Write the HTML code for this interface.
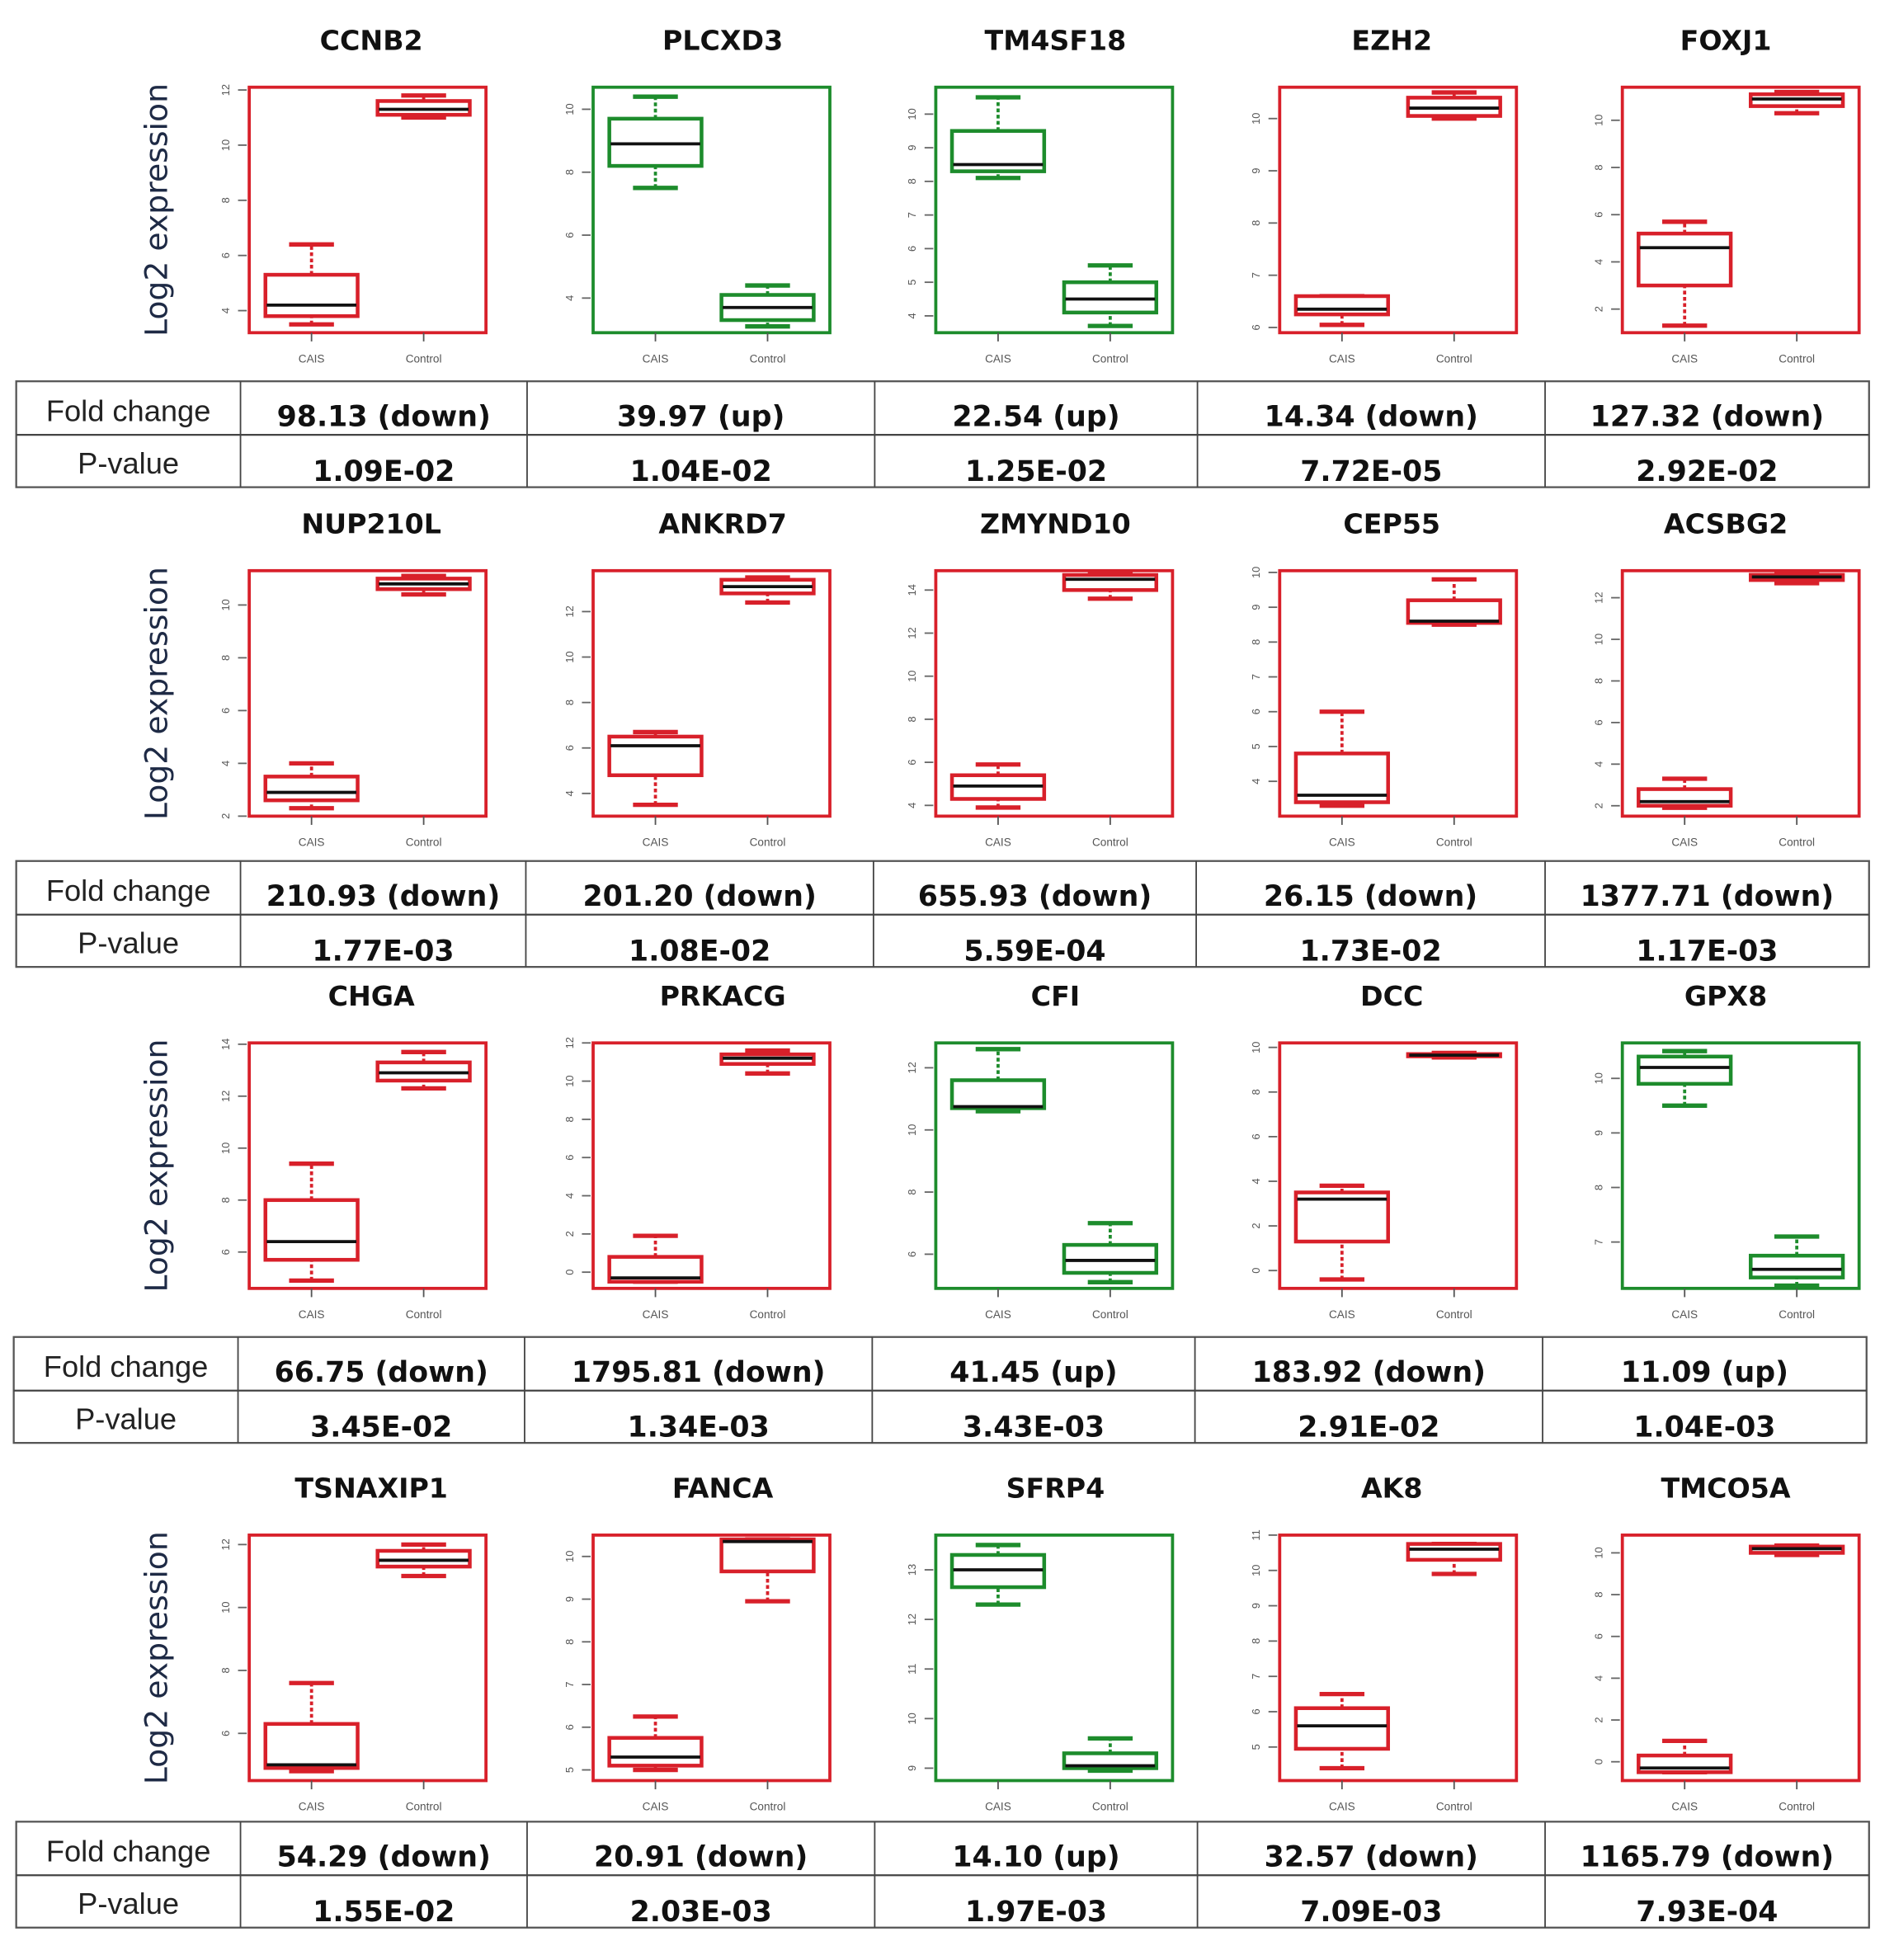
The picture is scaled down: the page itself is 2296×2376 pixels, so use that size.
<!DOCTYPE html>
<html><head><meta charset="utf-8"><style>
html,body{margin:0;padding:0;background:#fff;}
svg{display:block;}
</style></head><body>
<svg id="fig" xmlns="http://www.w3.org/2000/svg" width="2296" height="2376" viewBox="0 0 1520 1573"></svg>
<script>
const genes=["CCNB2","PLCXD3","TM4SF18","EZH2","FOXJ1","NUP210L","ANKRD7","ZMYND10","CEP55","ACSBG2","CHGA","PRKACG","CFI","DCC","GPX8","TSNAXIP1","FANCA","SFRP4","AK8","TMCO5A"];
const directions=["down","up","up","down","down","down","down","down","down","down","down","down","up","down","up","down","down","up","down","down"];
const domains=[[3.2,12.1],[2.9,10.7],[3.5,10.8],[5.9,10.6],[1.0,11.4],[2.0,11.3],[3.0,13.8],[3.5,14.9],[3.0,10.05],[1.5,13.3],[4.6,14.05],[-0.85,12.0],[4.9,12.8],[-0.8,10.2],[6.15,10.65],[4.5,12.3],[4.75,10.5],[8.75,13.7],[4.05,11.0],[-0.9,10.85]];
const tickValues=[[4,6,8,10,12],[4,6,8,10],[4,5,6,7,8,9,10],[6,7,8,9,10],[2,4,6,8,10],[2,4,6,8,10],[4,6,8,10,12],[4,6,8,10,12,14],[4,5,6,7,8,9,10],[2,4,6,8,10,12],[6,8,10,12,14],[0,2,4,6,8,10,12],[6,8,10,12],[0,2,4,6,8,10],[7,8,9,10],[6,8,10,12],[5,6,7,8,9,10],[9,10,11,12,13],[5,6,7,8,9,10,11],[0,2,4,6,8,10]];
// [low whisker, q1, median, q3, high whisker]
const caisStats=[[3.5,3.8,4.2,5.3,6.4],[7.5,8.2,8.9,9.7,10.4],[8.1,8.3,8.5,9.5,10.5],[6.05,6.25,6.35,6.6,6.6],[1.3,3.0,4.6,5.2,5.7],[2.3,2.6,2.9,3.5,4.0],[3.5,4.8,6.1,6.5,6.7],[3.9,4.3,4.9,5.4,5.9],[3.3,3.4,3.6,4.8,6.0],[1.9,2.0,2.2,2.8,3.3],[4.9,5.7,6.4,8.0,9.4],[-0.5,-0.5,-0.3,0.8,1.9],[10.6,10.7,10.75,11.6,12.6],[-0.4,1.3,3.2,3.5,3.8],[9.5,9.9,10.2,10.4,10.5],[4.8,4.9,5.0,6.3,7.6],[5.0,5.1,5.3,5.75,6.25],[12.3,12.65,13.0,13.3,13.5],[4.4,4.95,5.6,6.1,6.5],[-0.5,-0.5,-0.3,0.3,1.0]];
const ctrlStats=[[11.0,11.1,11.3,11.6,11.8],[3.1,3.3,3.7,4.1,4.4],[3.7,4.1,4.5,5.0,5.5],[10.0,10.05,10.2,10.4,10.5],[10.3,10.6,10.9,11.1,11.2],[10.4,10.6,10.8,11.0,11.1],[12.4,12.8,13.1,13.4,13.5],[13.6,14.0,14.5,14.7,14.8],[8.5,8.55,8.6,9.2,9.8],[12.7,12.85,13.0,13.1,13.2],[12.3,12.6,12.9,13.3,13.7],[10.4,10.9,11.2,11.4,11.6],[5.1,5.4,5.8,6.3,7.0],[9.55,9.6,9.65,9.7,9.75],[6.2,6.35,6.5,6.75,7.1],[11.0,11.3,11.5,11.8,12.0],[8.95,9.65,10.35,10.4,10.4],[8.95,9.0,9.05,9.3,9.6],[9.9,10.3,10.6,10.75,10.75],[9.9,10.0,10.2,10.3,10.35]];
const foldChanges=["98.13 (down)","39.97 (up)","22.54 (up)","14.34 (down)","127.32 (down)","210.93 (down)","201.20 (down)","655.93 (down)","26.15 (down)","1377.71 (down)","66.75 (down)","1795.81 (down)","41.45 (up)","183.92 (down)","11.09 (up)","54.29 (down)","20.91 (down)","14.10 (up)","32.57 (down)","1165.79 (down)"];
const pValues=["1.09E-02","1.04E-02","1.25E-02","7.72E-05","2.92E-02","1.77E-03","1.08E-02","5.59E-04","1.73E-02","1.17E-03","3.45E-02","1.34E-03","3.43E-03","2.91E-02","1.04E-03","1.55E-02","2.03E-03","1.97E-03","7.09E-03","7.93E-04"];
const groups=["CAIS","Control"];

const NS="http://www.w3.org/2000/svg";
const svg=document.getElementById('fig');
function mk(tag,attrs,parent,text){const e=document.createElementNS(NS,tag);for(const k in attrs)e.setAttribute(k,attrs[k]);if(text!==undefined)e.textContent=text;(parent||svg).appendChild(e);return e;}

const boxLefts=[200,476,751,1027,1302];
const boxTops=[70,458,837,1232];
const boxW=190, boxH=197;
const titleX=[298,580,847,1117,1385];
const tableTops=[306,691,1073,1462];
const tableCols=[[13,193,423,702,961,1240,1500],[13,193,422,701,960,1240,1500],[11,191,421,700,959,1238,1498],[13,193,423,702,961,1240,1500]];
const RED="#d8202a", GREEN="#1d8c2c";

for(let r=0;r<4;r++){
  const top=boxTops[r];
  const yl=mk('text',{x:0,y:0,transform:`translate(134,${top+boxH/2}) rotate(-90)`,'text-anchor':'middle','font-family':'"DejaVu Sans","Liberation Sans",sans-serif','font-size':25,fill:'#1e2a45'},svg,'Log2 expression');
  
  
  for(let c=0;c<5;c++){
    const i=r*5+c; const left=boxLefts[c];
    const g=mk('g',{});
    
    
    const [d0,d1]=domains[i];
    const y=v=>top+boxH-(v-d0)/(d1-d0)*boxH;
    const col=directions[i]==="up"?GREEN:RED;
    const t=mk('text',{x:titleX[c],y:top-30,'text-anchor':'middle','font-family':'"DejaVu Sans","Liberation Sans",sans-serif','font-weight':'bold','font-size':22,fill:'#111'},g,genes[i]);
    
    
    tickValues[i].forEach(tv=>{
      const yy=y(tv);
      mk('line',{x1:left-9,x2:left-2,y1:yy,y2:yy,stroke:'#666','stroke-width':1.2},g);
      const tl=mk('text',{x:0,y:0,transform:`translate(${left-16},${yy}) rotate(-90)`,'text-anchor':'middle','font-family':'"Liberation Sans",sans-serif','font-size':8.5,fill:'#555'},g,String(tv));
      
      
    });
    const frame=mk('rect',{x:left,y:top,width:boxW,height:boxH,fill:'#fff',stroke:col,'stroke-width':2.5},g);
    
    
    [caisStats[i],ctrlStats[i]].forEach((s,k)=>{
      const cx=left+50+90*k;
      mk('line',{x1:cx,x2:cx,y1:top+boxH,y2:top+boxH+7,stroke:'#555','stroke-width':1.2},g);
      const xl=mk('text',{x:cx,y:top+boxH+24,'text-anchor':'middle','font-family':'"Liberation Sans",sans-serif','font-size':9,fill:'#555'},g,groups[k]);
      
      
      const bx=mk('g',{},g);
      
      
      mk('line',{x1:cx,x2:cx,y1:y(s[0]),y2:y(s[1]),stroke:col,'stroke-width':2.5,'stroke-dasharray':'3,2'},bx);
      mk('line',{x1:cx,x2:cx,y1:y(s[3]),y2:y(s[4]),stroke:col,'stroke-width':2.5,'stroke-dasharray':'3,2'},bx);
      mk('line',{x1:cx-18,x2:cx+18,y1:y(s[0]),y2:y(s[0]),stroke:col,'stroke-width':3.5},bx);
      mk('line',{x1:cx-18,x2:cx+18,y1:y(s[4]),y2:y(s[4]),stroke:col,'stroke-width':3.5},bx);
      mk('rect',{x:cx-37,y:y(s[3]),width:74,height:Math.max(1,y(s[1])-y(s[3])),fill:'#fff',stroke:col,'stroke-width':3},bx);
      mk('line',{x1:cx-36,x2:cx+36,y1:y(s[2]),y2:y(s[2]),stroke:'#111','stroke-width':2.5},bx);
    });
  }
  // table
  const tt=tableTops[r], cols=tableCols[r], mid=tt+43, bot=tt+85;
  const tb=mk('g',{});
  
  
  mk('rect',{x:cols[0],y:tt,width:cols[6]-cols[0],height:85,fill:'none',stroke:'#555','stroke-width':1.5},tb);
  mk('line',{x1:cols[0],x2:cols[6],y1:mid,y2:mid,stroke:'#444','stroke-width':1.5},tb);
  for(let j=1;j<6;j++)mk('line',{x1:cols[j],x2:cols[j],y1:tt,y2:bot,stroke:'#444','stroke-width':1.2},tb);
  const fl=mk('text',{x:(cols[0]+cols[1])/2,y:tt+32,'text-anchor':'middle','font-family':'"Liberation Sans",sans-serif','font-size':24,fill:'#222'},tb,'Fold change');
  
  
  const pl=mk('text',{x:(cols[0]+cols[1])/2,y:mid+31,'text-anchor':'middle','font-family':'"Liberation Sans",sans-serif','font-size':24,fill:'#222'},tb,'P-value');
  
  
  for(let c=0;c<5;c++){
    const i=r*5+c, cx=(cols[c+1]+cols[c+2])/2;
    const fv=mk('text',{x:cx,y:tt+36,'text-anchor':'middle','font-family':'"DejaVu Sans","Liberation Sans",sans-serif','font-weight':'bold','font-size':23,fill:'#111'},tb,foldChanges[i]);
    
    
    const pv=mk('text',{x:cx,y:mid+37,'text-anchor':'middle','font-family':'"DejaVu Sans","Liberation Sans",sans-serif','font-weight':'bold','font-size':23,fill:'#111'},tb,pValues[i]);
    
    
  }
}
</script>
</body></html>
